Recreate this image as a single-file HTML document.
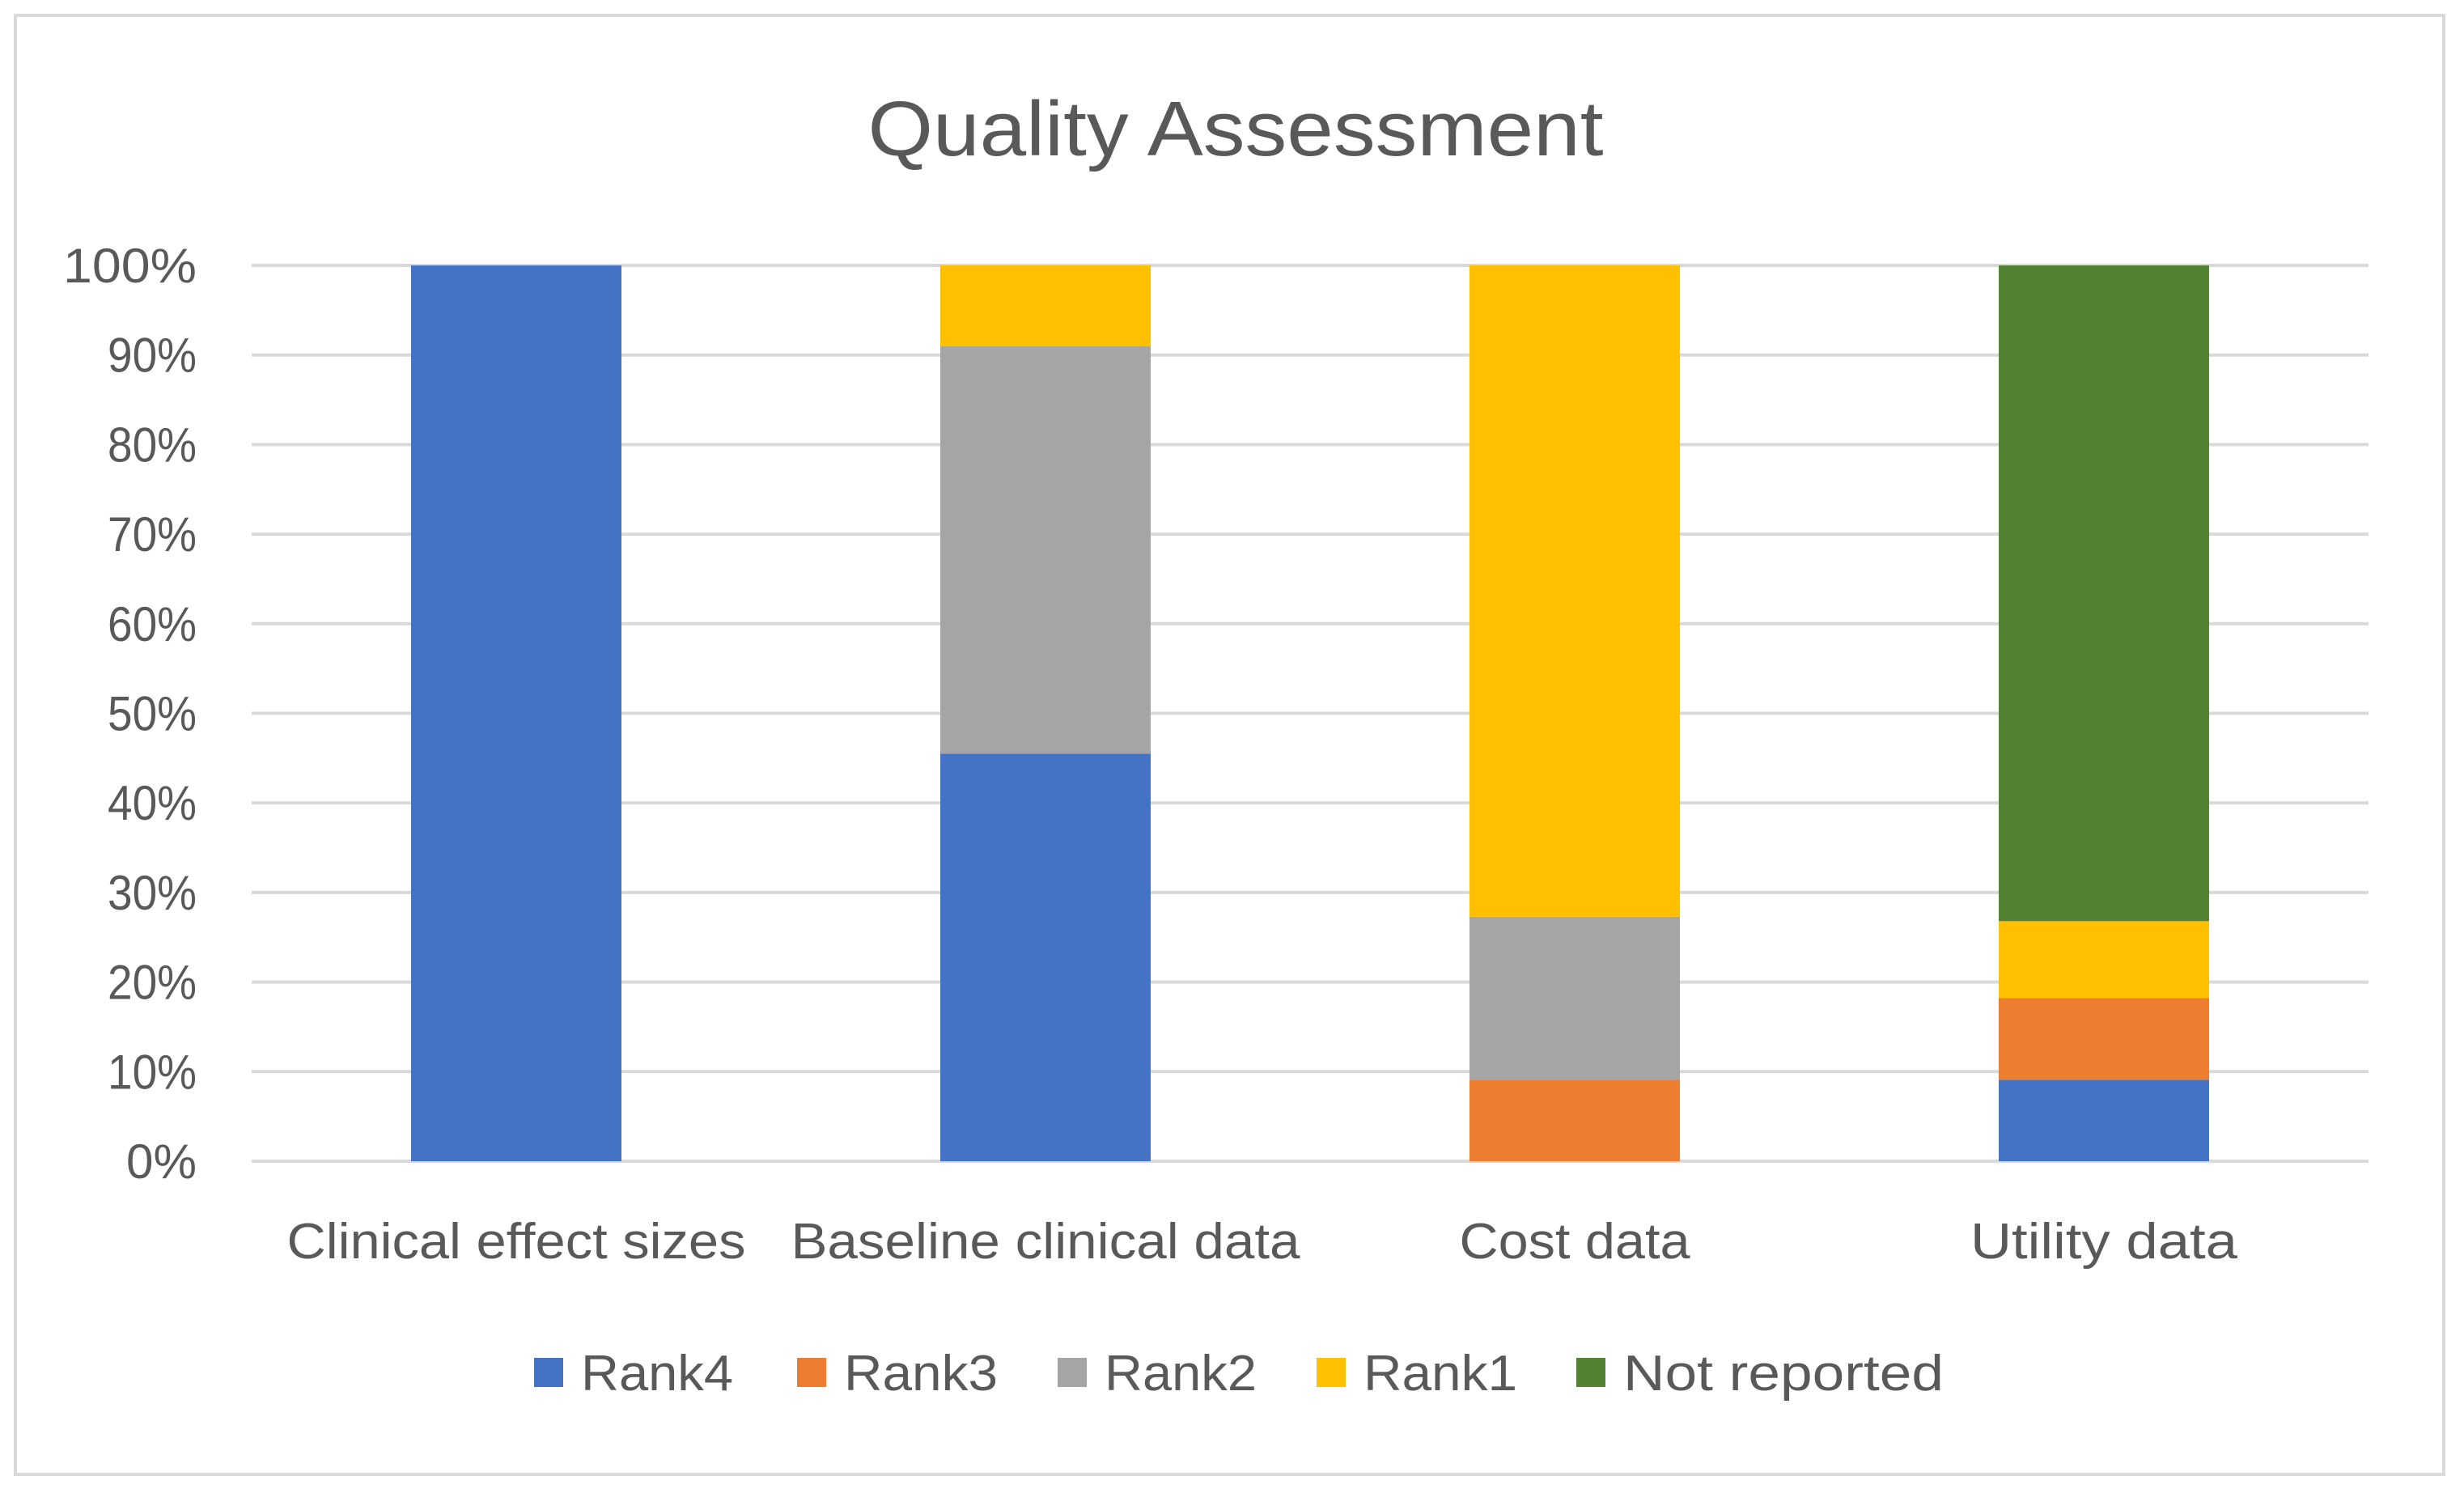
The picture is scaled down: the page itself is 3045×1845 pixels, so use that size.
<!DOCTYPE html>
<html><head><meta charset="utf-8"><style>
html,body{margin:0;padding:0;background:#fff;}
svg{display:block;font-family:"Liberation Sans",sans-serif;}
</style></head><body>
<svg id="chart" width="3045" height="1845" viewBox="0 0 3045 1845" xmlns="http://www.w3.org/2000/svg">
<rect x="19" y="19" width="3001" height="1803" fill="#fff" stroke="#d9d9d9" stroke-width="4"/>
<text x="1527" y="192" text-anchor="middle" font-size="96" fill="#595959" textLength="909" lengthAdjust="spacingAndGlyphs">Quality Assessment</text>
<g id="grid"></g><g id="bars"></g><g id="labels"></g><g id="legend"></g>
</svg>
<script>
const categories = ["Clinical effect sizes","Baseline clinical data","Cost data","Utility data"];
const seriesNames = ["Rank4","Rank3","Rank2","Rank1","Not reported"];
const colors = ["#4472c4","#ed7d31","#a5a5a5","#ffc000","#548235"];
const rank4 = [100,45.5,0,9.1];
const rank3 = [0,0,9.1,9.1];
const rank2 = [0,45.5,18.2,0];
const rank1 = [0,9.0,72.7,8.6];
const notReported = [0,0,0,73.2];
const ticks = [0,10,20,30,40,50,60,70,80,90,100];
const series = [rank4,rank3,rank2,rank1,notReported];

const ns="http://www.w3.org/2000/svg";
const x0=311,x1=2927,yTop=328,yBot=1435;
const band=(x1-x0)/categories.length, bw=260;
const y=v=>yBot-(v/100)*(yBot-yTop);
const xc=i=>x0+band*(i+0.5);
const catWidths=[567,629,285,330];
const legWidths=[188,190,188,190,396];
function mk(tag,attrs,parent){const e=document.createElementNS(ns,tag);for(const k in attrs)e.setAttribute(k,attrs[k]);parent.appendChild(e);return e;}
const grid=document.getElementById('grid'),bars=document.getElementById('bars'),labels=document.getElementById('labels'),legend=document.getElementById('legend');
ticks.forEach(t=>{
  const l=mk('line',{x1:x0,x2:x1,y1:y(t),y2:y(t),stroke:'#d9d9d9','stroke-width':4},grid);
  
  
  const s=t+'%';
  const w=s.length===4?165:(s.length===3?110:87);
  const tx=mk('text',{x:243,y:y(t)+21,'text-anchor':'end','font-size':60,fill:'#595959',textLength:w,lengthAdjust:'spacingAndGlyphs'},labels);
  tx.textContent=s;
  
  
});
categories.forEach((c,i)=>{
  let acc=0;
  series.forEach((s,j)=>{
    const v=s[i]; if(!v)return;
    const r=mk('rect',{x:xc(i)-bw/2,y:y(acc+v),width:bw,height:y(acc)-y(acc+v),fill:colors[j]},bars);
    
    
    acc+=v;
  });
  const t=mk('text',{x:xc(i),y:1555,'text-anchor':'middle','font-size':62,fill:'#595959',textLength:catWidths[i],lengthAdjust:'spacingAndGlyphs'},labels);
  t.textContent=c;
  
  
});
const lx=[660,985,1307,1627,1948];
seriesNames.forEach((n,j)=>{
  const g=mk('g',{},legend);
  
  
  mk('rect',{x:lx[j],y:1678,width:36,height:36,fill:colors[j]},g);
  const t=mk('text',{x:lx[j]+58,y:1718,'font-size':62,fill:'#595959',textLength:legWidths[j],lengthAdjust:'spacingAndGlyphs'},g);
  t.textContent=n;
});
</script>
</body></html>
